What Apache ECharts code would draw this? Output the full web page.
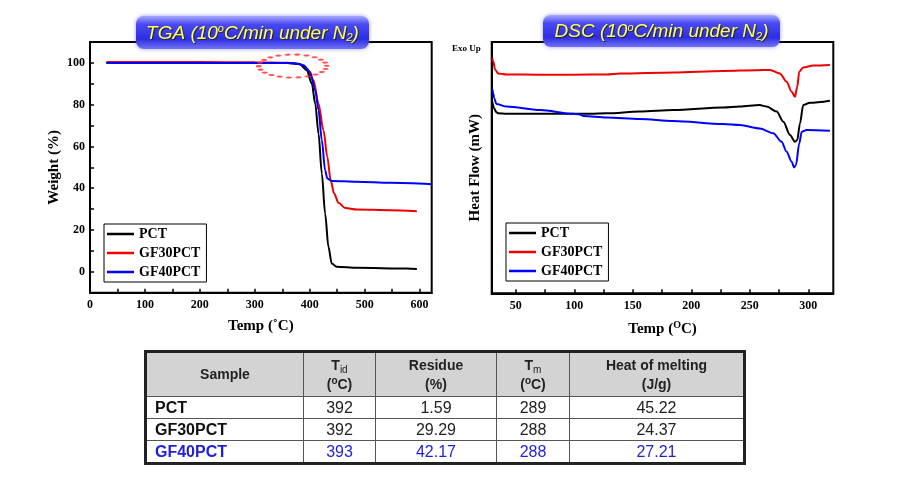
<!DOCTYPE html>
<html>
<head>
<meta charset="utf-8">
<script src="https://cdn.jsdelivr.net/npm/echarts@6/dist/echarts.min.js"></script>
<style>
html,body{margin:0;padding:0;background:#fff;}
#wrap{position:relative;width:903px;height:477px;overflow:hidden;}
#chart{position:absolute;left:0;top:0;width:903px;height:477px;}
#tbl{position:absolute;left:144px;top:350px;border-collapse:collapse;border:3px solid #222;
  font-family:"Liberation Sans",Arial,sans-serif;table-layout:fixed;}
#tbl td,#tbl th{border:1.5px solid #555;padding:0;text-align:center;line-height:19px;}
#tbl th{background:#d3d3d3;font-weight:bold;font-size:14px;color:#222;height:43px;}
#tbl td{font-size:16px;color:#222;height:21px;}
#tbl td.s{text-align:left;padding-left:8px;font-weight:bold;color:#111;}
#tbl tr.blue td{color:#1f1fd6;}
#tbl sub{font-size:10px;font-weight:normal;line-height:0;position:relative;vertical-align:baseline;top:3px;}
#tbl sup{font-size:10px;line-height:0;position:relative;vertical-align:baseline;top:-5px;}
</style>
</head>
<body>
<div id="wrap">
<div id="chart"></div>
<table id="tbl"></table>
</div>
<script>
// ---------- TGA data (Temp °C, Weight %) ----------
const tgaPctT   = [30, 100, 200, 300, 360, 382, 394.6, 403.8, 410, 416, 422, 428, 434, 440, 449, 486, 577, 595];
const tgaPctW   = [100, 100, 100, 100, 100, 99.4, 96.5, 90.1, 80.5, 66.2, 47, 27.9, 12, 4, 2.4, 1.9, 1.6, 1.3];
const tgaGf30T  = [30, 100, 200, 300, 360, 380, 394.6, 406.8, 416, 425, 432, 438, 444.4, 452.3, 464.5, 485.7, 546, 595];
const tgaGf30W  = [100.4, 100.4, 100.4, 100.3, 100.1, 99.6, 97.3, 91.7, 80.5, 67.8, 55, 43.9, 37.5, 33, 30.6, 29.8, 29.5, 29];
const tgaGf40T  = [30, 100, 200, 300, 360, 378, 388.6, 400.7, 410, 416, 422, 428, 432, 440, 486, 546, 622];
const tgaGf40W  = [100, 100, 100, 100, 100, 99.6, 98.9, 95.7, 86.9, 77.4, 63, 48.6, 44.7, 43.5, 43.1, 42.6, 41.9];
const tgaHighlight = [[369, 98.5]]; // dotted ellipse around onset region

// ---------- DSC data (Temp °C, heat flow, arbitrary units) ----------
const dscPctT   = [29.9, 31.5, 33.5, 35.0, 42, 70.7, 99.1, 113.4, 127.7, 156.2, 184.6, 227.4, 241.5, 258.5, 264.4, 273, 278.7, 284.4, 288.6, 290.6, 292.9, 295.7, 301.5, 318.5];
const dscPctH   = [76.3, 73.5, 72.0, 71.6, 71.4, 71.4, 71.4, 71.4, 71.6, 72.3, 72.9, 73.9, 74.3, 74.9, 74.3, 72.3, 68.3, 63.0, 60.3, 61.0, 67.6, 74.9, 75.8, 76.6];
const dscGf30T  = [29.9, 31.0, 32.2, 35.0, 42.2, 70.7, 99.1, 127.7, 139.1, 184.6, 227.4, 255.9, 267.3, 275.7, 281.5, 285.8, 288.6, 290.6, 292.3, 295.7, 304.3, 318.5];
const dscGf30H  = [93.5, 92.0, 89.1, 87.5, 87.1, 87.0, 87.0, 87.1, 87.5, 87.9, 88.5, 88.8, 88.9, 87.5, 84.2, 80.2, 78.2, 82.2, 88.2, 89.9, 90.6, 90.8];
const dscGf40T  = [29.9, 30.8, 31.5, 33.5, 42.2, 70.7, 99.1, 104, 108, 127.7, 156.2, 184.6, 227.4, 241.5, 258.5, 270.1, 277.2, 281.5, 285.8, 287.8, 289.5, 292.3, 294.4, 298.6, 318.5];
const dscGf40H  = [81.2, 79.5, 77.6, 75.3, 74.3, 72.9, 71.4, 71.2, 70.6, 70.0, 69.4, 68.6, 67.4, 67.0, 65.6, 63.7, 60.3, 56.3, 52.4, 50.1, 51.0, 59.7, 64.3, 65.0, 64.7];

// ---------- tick labels ----------
const tgaXLabels = [0, 100, 200, 300, 400, 500, 600];
const tgaXTicks  = [0, 50, 100, 150, 200, 250, 300, 350, 400, 450, 500, 550, 600];
const tgaYLabels = [0, 20, 40, 60, 80, 100];
const tgaYTicks  = [0, 10, 20, 30, 40, 50, 60, 70, 80, 90, 100];
const dscXLabels = [50, 100, 150, 200, 250, 300];
const dscXTicks  = [50, 75, 100, 125, 150, 175, 200, 225, 250, 275, 300];

// ---------- legend names ----------
const sampleNames = ['PCT', 'GF30PCT', 'GF40PCT'];

// ---------- table ----------
const tableSamples = ['PCT', 'GF30PCT', 'GF40PCT'];
const tableTid     = ['392', '392', '393'];
const tableResidue = ['1.59', '29.29', '42.17'];
const tableTm      = ['289', '288', '288'];
const tableHeat    = ['45.22', '24.37', '27.21'];

const zip = (a, b) => a.map((v, i) => [v, b[i]]);
const serif = 'Liberation Serif';

function axisBase() {
  return {
    axisLine: { show: true, onZero: false, lineStyle: { color: '#000', width: 2 } },
    splitLine: { show: false },
    axisLabel: { color: '#000', fontFamily: serif, fontWeight: 'bold', fontSize: 12 },
    nameTextStyle: { color: '#000', fontFamily: serif, fontWeight: 'bold', fontSize: 15 }
  };
}

function legendBox(left, top, names) {
  return {
    orient: 'vertical', left: left, top: top, data: names,
    formatter: n => n.replace('DSC:', ''),
    icon: 'rect',
    borderColor: '#000', borderWidth: 1, padding: [3, 6, 3, 3],
    itemGap: 5, itemWidth: 27, itemHeight: 2.5,
    textStyle: { color: '#000', fontFamily: serif, fontWeight: 'bold', fontSize: 14, lineHeight: 14 }
  };
}

function lineSeries(name, xi, yi, data, color) {
  return {
    type: 'line', name: name, xAxisIndex: xi, yAxisIndex: yi, data: data,
    showSymbol: false, symbol: 'none', smooth: 0.3, smoothMonotone: 'x',
    lineStyle: { color: color, width: 2 }, itemStyle: { color: color }, animation: false
  };
}

function banner(x, y, w, h, label) {
  return {
    type: 'group', left: x, top: y, z: 100,
    children: [
      { type: 'rect', shape: { x: 0, y: 0, width: w, height: h, r: 8 },
        style: {
          fill: new echarts.graphic.LinearGradient(0, 0, 0, 1, [
            { offset: 0, color: '#a8a8ff' }, { offset: 0.25, color: '#4a4af2' },
            { offset: 0.7, color: '#2d2de2' }, { offset: 1, color: '#7272f4' }]),
          shadowBlur: 4, shadowColor: 'rgba(90,90,255,0.6)'
        } },
      { type: 'text', x: w / 2, y: h / 2 + 1,
        style: {
          text: '{a|' + label + ' (10}{s|o}{a|C/min under N}{b|2}{a|)}',
          align: 'center', verticalAlign: 'middle',
          textShadowColor: '#222', textShadowOffsetX: 1, textShadowOffsetY: 1, textShadowBlur: 1,
          rich: {
            a: { fill: '#ffff5e', fontFamily: 'Liberation Sans', fontStyle: 'italic', fontSize: 19 },
            s: { fill: '#ffff5e', fontFamily: 'Liberation Sans', fontStyle: 'italic', fontSize: 11, verticalAlign: 'top', padding: [0, 0, 8, 0] },
            b: { fill: '#ffff5e', fontFamily: 'Liberation Sans', fontStyle: 'italic', fontSize: 11, padding: [9, 0, 0, 0] }
          }
        } }
    ]
  };
}

const chart = echarts.init(document.getElementById('chart'), null, { renderer: 'canvas' });
chart.setOption({
  backgroundColor: '#fff',
  animation: false,
  grid: [
    { left: 90, top: 42, width: 341.7, height: 250.7, show: true, borderColor: '#000', borderWidth: 2 },
    { left: 491.7, top: 42, width: 341.6, height: 251.3, show: true, borderColor: '#000', borderWidth: 2 }
  ],
  xAxis: [
    Object.assign(axisBase(), {
      type: 'value', gridIndex: 0, min: 0, max: 622,
      name: 'Temp (˚C)', nameLocation: 'middle', nameGap: 26,
      axisTick: { inside: true, length: 4, lineStyle: { color: '#000', width: 1.5 }, customValues: tgaXTicks },
      axisLabel: Object.assign(axisBase().axisLabel, { customValues: tgaXLabels, margin: 6 })
    }),
    Object.assign(axisBase(), {
      type: 'value', gridIndex: 1, min: 29.4, max: 321.4,
      name: 'Temp ({s|O}C)', nameLocation: 'middle', nameGap: 27,
      nameTextStyle: { color: '#000', fontFamily: serif, fontWeight: 'bold', fontSize: 15,
        rich: { s: { color: '#000', fontFamily: serif, fontWeight: 'bold', fontSize: 10, padding: [0, 0, 8, 0] } } },
      axisTick: { inside: true, length: 4, lineStyle: { color: '#000', width: 1.5 }, customValues: dscXTicks },
      axisLabel: Object.assign(axisBase().axisLabel, { customValues: dscXLabels, margin: 7 })
    })
  ],
  yAxis: [
    Object.assign(axisBase(), {
      type: 'value', gridIndex: 0, min: -10, max: 110,
      name: 'Weight (%)', nameLocation: 'middle', nameGap: 28,
      axisTick: { inside: true, length: 4, lineStyle: { color: '#000', width: 1.5 }, customValues: tgaYTicks },
      axisLabel: Object.assign(axisBase().axisLabel, { customValues: tgaYLabels, margin: 5 })
    }),
    Object.assign(axisBase(), {
      type: 'value', gridIndex: 1, min: 0, max: 100,
      name: 'Heat Flow (mW)', nameLocation: 'middle', nameGap: 9,
      axisTick: { show: false }, axisLabel: { show: false }
    })
  ],
  legend: [
    legendBox(104, 224, sampleNames),
    legendBox(506, 223, sampleNames.map(n => 'DSC:' + n))
  ],
  series: [
    lineSeries('GF30PCT', 0, 0, zip(tgaGf30T, tgaGf30W), '#ee0000'),
    lineSeries('PCT', 0, 0, zip(tgaPctT, tgaPctW), '#000000'),
    lineSeries('GF40PCT', 0, 0, zip(tgaGf40T, tgaGf40W), '#0000ff'),
    {
      type: 'scatter', name: 'onset', xAxisIndex: 0, yAxisIndex: 0, data: tgaHighlight, z: 5,
      symbol: 'path://M0,12 A35,12 0 1,1 70,12 A35,12 0 1,1 0,12 Z', symbolSize: [68, 23],
      itemStyle: { color: 'rgba(0,0,0,0)', borderColor: '#ff2a2a', borderWidth: 3.5, borderType: [0.1, 5.5], borderCap: 'round' },
      silent: true
    },
    lineSeries('DSC:PCT', 1, 1, zip(dscPctT, dscPctH), '#000000'),
    lineSeries('DSC:GF30PCT', 1, 1, zip(dscGf30T, dscGf30H), '#ee0000'),
    lineSeries('DSC:GF40PCT', 1, 1, zip(dscGf40T, dscGf40H), '#0000ff')
  ],
  graphic: [
    banner(136, 16, 233, 33, 'TGA'),
    banner(543, 15, 237, 32, 'DSC'),
    { type: 'text', left: 452, top: 44, z: 50,
      style: { text: 'Exo Up', fill: '#000', font: 'bold 9px "Liberation Serif"' } }
  ]
});

// ---------- table build ----------
const tbl = document.getElementById('tbl');
const colW = [158, 72, 121, 73, 175];
let html = '<colgroup>' + colW.map(w => '<col style="width:' + w + 'px">').join('') + '</colgroup>';
html += '<tr><th>Sample</th><th>T<sub>id</sub><br>(<sup>o</sup>C)</th><th>Residue<br>(%)</th>' +
        '<th>T<sub>m</sub><br>(<sup>o</sup>C)</th><th>Heat of melting<br>(J/g)</th></tr>';
tableSamples.forEach((s, i) => {
  html += '<tr' + (i === 2 ? ' class="blue"' : '') + '><td class="s">' + s + '</td><td>' + tableTid[i] +
          '</td><td>' + tableResidue[i] + '</td><td>' + tableTm[i] + '</td><td>' + tableHeat[i] + '</td></tr>';
});
tbl.innerHTML = html;
</script>
</body>
</html>
